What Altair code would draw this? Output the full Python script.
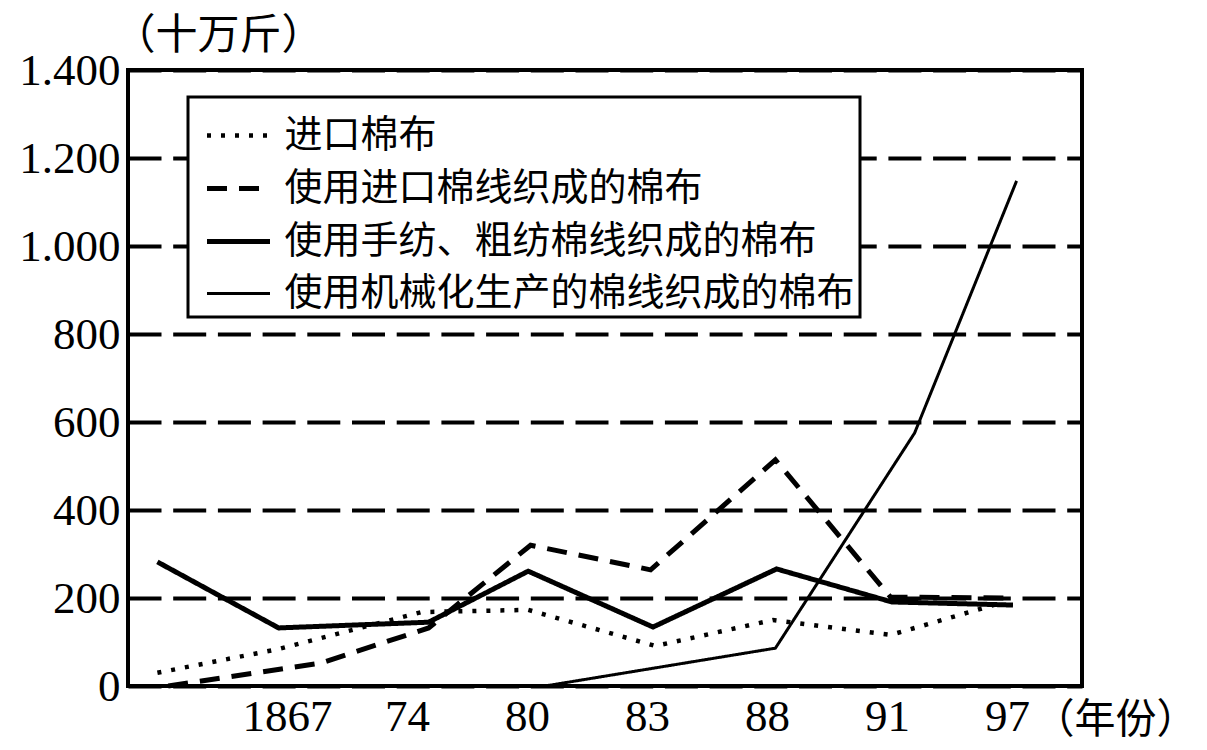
import altair as alt
import pandas as pd

# Series names (legend order)
names = ["进口棉布", "使用进口棉线织成的棉布", "使用手纺、粗纺棉线织成的棉布", "使用机械化生产的棉线织成的棉布"]

# x positions are in "tick-slot" units: 1..7 correspond to the labelled years
tick_pos = [1, 2, 3, 4, 5, 6, 7]
tick_labels = ["1867", "74", "80", "83", "88", "91", "97"]

# 进口棉布 (dotted)
imp_cloth_x = [-0.08, 0.93, 2.12, 3.01, 4.07, 5.05, 6.03, 6.94]
imp_cloth_y = [30, 84, 168, 173, 91, 150, 116, 188]

# 使用进口棉线织成的棉布 (dashed)
imp_yarn_x = [0.01, 1.28, 2.18, 3.03, 4.03, 5.07, 6.03, 6.97]
imp_yarn_y = [0, 52, 132, 320, 264, 514, 202, 200]

# 使用手纺、粗纺棉线织成的棉布 (thick solid)
hand_x = [-0.08, 0.93, 2.18, 3.01, 4.05, 5.08, 6.04, 7.05]
hand_y = [282, 132, 145, 261, 134, 266, 191, 184]

# 使用机械化生产的棉线织成的棉布 (thin solid)
mach_x = [3.15, 5.07, 6.23, 7.08]
mach_y = [0, 86, 575, 1148]

rows = []
for name, xs, ys in zip(names, [imp_cloth_x, imp_yarn_x, hand_x, mach_x],
                        [imp_cloth_y, imp_yarn_y, hand_y, mach_y]):
    for i, (a, b) in enumerate(zip(xs, ys)):
        rows.append({"series": name, "x": a, "y": b, "order": i})
df = pd.DataFrame(rows)

FONT = "Liberation Serif, Noto Sans CJK SC"

label_expr = "{" + ",".join(f"'{p}':'{l}'" for p, l in zip(tick_pos, tick_labels)) + "}[datum.value]"

chart = alt.Chart(df).mark_line(color="black", strokeCap="butt", strokeJoin="miter").encode(
    x=alt.X("x:Q",
            scale=alt.Scale(domain=[-0.325, 7.625], nice=False, zero=False),
            axis=alt.Axis(values=tick_pos, labelExpr=label_expr, grid=False, domain=False,
                          ticks=False, labelFontSize=45, labelFont=FONT, labelColor="black",
                          labelPadding=8,
                          title="（年份）", titleX=987, titleY=34, titleAlign="center",
                          titleBaseline="middle", titleFontSize=41, titleFont=FONT,
                          titleFontWeight="normal", titleColor="black")),
    y=alt.Y("y:Q",
            scale=alt.Scale(domain=[0, 1400], nice=False),
            axis=alt.Axis(values=[0, 200, 400, 600, 800, 1000, 1200, 1400],
                          labelExpr="replace(format(datum.value, ','), ',', '.')",
                          grid=True, gridColor="black", gridOpacity=1, gridWidth=4,
                          gridDash=[33, 11.7], domain=False, ticks=False,
                          labelFontSize=45, labelFont=FONT, labelColor="black", labelPadding=8,
                          title="（十万斤）", titleAngle=0, titleX=90, titleY=-35,
                          titleAlign="center", titleBaseline="middle", titleFontSize=42,
                          titleFont=FONT, titleFontWeight="normal", titleColor="black")),
    strokeDash=alt.StrokeDash("series:N",
                              scale=alt.Scale(domain=names,
                                              range=[[4, 10], [20, 12], [1, 0], [1, 0]]),
                              legend=alt.Legend(title=None)),
    strokeWidth=alt.StrokeWidth("series:N",
                                scale=alt.Scale(type="ordinal", domain=names,
                                                range=[4.5, 5, 5, 3]),
                                legend=alt.Legend(title=None)),
    order="order:Q",
    detail="series:N",
).properties(
    width=954,
    height=616,
    autosize=alt.AutoSizeParams(type="none"),
    padding={"left": 120, "top": 62, "right": 114, "bottom": 55},
).configure_view(
    stroke="black", strokeWidth=4
).configure_legend(
    orient="none", legendX=60, legendY=27,
    symbolType="stroke", symbolSize=3969, symbolStrokeColor="black", symbolOffset=12,
    labelFontSize=38, labelFont=FONT, labelColor="black", labelOffset=12,
    rowPadding=-9, padding=4.5,
    fillColor="white", strokeColor="black", strokeWidth=3, cornerRadius=0,
    labelLimit=1000,
)

chart.save("out.html", embed_options={"renderer": "svg", "actions": False})
